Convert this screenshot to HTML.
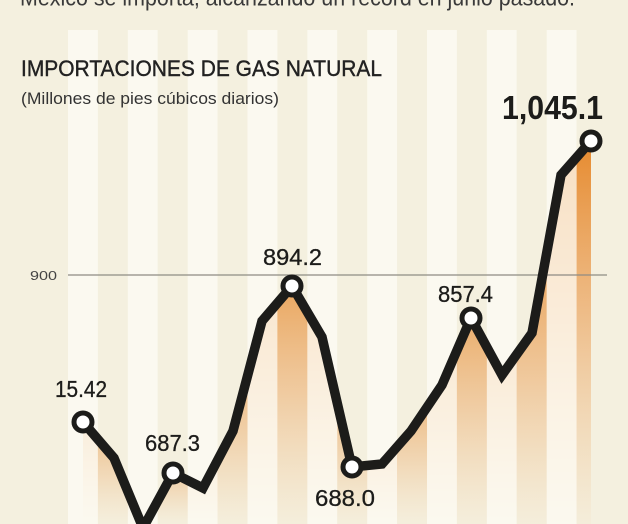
<!DOCTYPE html>
<html><head><meta charset="utf-8"><style>
html,body{margin:0;padding:0;background:#f4f0df;}
svg{display:block;}
text{font-family:"Liberation Sans",sans-serif;}
</style></head><body>
<svg width="628" height="524" viewBox="0 0 628 524" xmlns="http://www.w3.org/2000/svg">
<defs>
<linearGradient id="og" x1="0" y1="0" x2="0" y2="1">
<stop offset="0" stop-color="#e68a2e" stop-opacity="1"/>
<stop offset="0.45" stop-color="#ea9a4e" stop-opacity="0.6"/>
<stop offset="1" stop-color="#f0b57a" stop-opacity="0.05"/>
</linearGradient>
<clipPath id="area"><polygon points="83,422 114,458 143,528 173,473 203,488 233,431 262,321 292,286 322,337 352,467 382,464 411,431 442,385 471,318 502,375 532,333 561,175 591,141 591,524 83,524"/></clipPath>
</defs>
<rect width="628" height="524" fill="#f4f0df"/>
<g clip-path="url(#area)" fill="url(#og)">
<rect x="68" y="422" width="30" height="102" fill-opacity="0.45"/>
<rect x="97.9" y="439" width="30" height="85" fill-opacity="0.42"/>
<rect x="127.8" y="491" width="30" height="33" fill-opacity="0.32"/>
<rect x="157.8" y="473" width="30" height="51" fill-opacity="0.35"/>
<rect x="187.7" y="460" width="30" height="64" fill-opacity="0.38"/>
<rect x="217.6" y="376" width="30" height="148" fill-opacity="0.55"/>
<rect x="247.5" y="303" width="30" height="221" fill-opacity="0.68"/>
<rect x="277.4" y="286" width="30" height="238" fill-opacity="0.72"/>
<rect x="307.3" y="312" width="30" height="212" fill-opacity="0.66"/>
<rect x="337.3" y="403" width="30" height="121" fill-opacity="0.5"/>
<rect x="367.2" y="447" width="30" height="77" fill-opacity="0.4"/>
<rect x="397.1" y="407" width="30" height="117" fill-opacity="0.5"/>
<rect x="427" y="351" width="30" height="173" fill-opacity="0.6"/>
<rect x="456.9" y="318" width="30" height="206" fill-opacity="0.66"/>
<rect x="486.8" y="347" width="30" height="177" fill-opacity="0.6"/>
<rect x="516.7" y="253" width="30" height="271" fill-opacity="0.78"/>
<rect x="546.7" y="157" width="30" height="367" fill-opacity="0.95"/>
<rect x="576.6" y="141" width="30" height="383" fill-opacity="1"/>
</g>
<g fill="#fdfcf6" fill-opacity="0.74">
<rect x="68" y="30" width="29.9" height="494"/>
<rect x="127.8" y="30" width="29.9" height="494"/>
<rect x="187.7" y="30" width="29.9" height="494"/>
<rect x="247.5" y="30" width="29.9" height="494"/>
<rect x="307.3" y="30" width="29.9" height="494"/>
<rect x="367.2" y="30" width="29.9" height="494"/>
<rect x="427" y="30" width="29.9" height="494"/>
<rect x="486.8" y="30" width="29.9" height="494"/>
<rect x="546.7" y="30" width="29.9" height="494"/>
</g>
<line x1="68" y1="275" x2="607" y2="275" stroke="#8e8c84" stroke-width="1.3"/>
<text x="30" y="280" font-size="13" fill="#444" textLength="27" lengthAdjust="spacingAndGlyphs">900</text>
<text x="20" y="5.5" font-size="23" fill="#3a3a3a" textLength="555" lengthAdjust="spacingAndGlyphs">México se importa, alcanzando un récord en junio pasado.</text>
<text x="21" y="76" font-size="22.5" fill="#222" stroke="#222" stroke-width="0.4" textLength="361" lengthAdjust="spacingAndGlyphs">IMPORTACIONES DE GAS NATURAL</text>
<text x="21" y="104" font-size="17" fill="#333" textLength="258" lengthAdjust="spacingAndGlyphs">(Millones de pies cúbicos diarios)</text>
<polyline points="83,422 114,458 143,528 173,473 203,488 233,431 262,321 292,286 322,337 352,467 382,464 411,431 442,385 471,318 502,375 532,333 561,175 591,141" fill="none" stroke="#1c1c1a" stroke-width="9.5" stroke-linejoin="miter" stroke-miterlimit="3"/>
<g fill="#ffffff" stroke="#1c1c1a" stroke-width="5">
<circle cx="83" cy="422" r="9"/>
<circle cx="173" cy="473" r="9"/>
<circle cx="292" cy="286" r="9"/>
<circle cx="352" cy="467" r="9"/>
<circle cx="471" cy="318" r="9"/>
<circle cx="591" cy="141" r="9"/>
</g>
<g font-size="23" fill="#1c1c1a" stroke="#1c1c1a" stroke-width="0.3">
<text x="55" y="397" textLength="52" lengthAdjust="spacingAndGlyphs">15.42</text>
<text x="145" y="451" textLength="55" lengthAdjust="spacingAndGlyphs">687.3</text>
<text x="263" y="265" textLength="59" lengthAdjust="spacingAndGlyphs">894.2</text>
<text x="315" y="506" textLength="60" lengthAdjust="spacingAndGlyphs">688.0</text>
<text x="438" y="302" textLength="55" lengthAdjust="spacingAndGlyphs">857.4</text>
</g>
<text x="502" y="119" font-size="33" font-weight="bold" fill="#1c1c1a" textLength="101" lengthAdjust="spacingAndGlyphs">1,045.1</text>
</svg>
</body></html>
